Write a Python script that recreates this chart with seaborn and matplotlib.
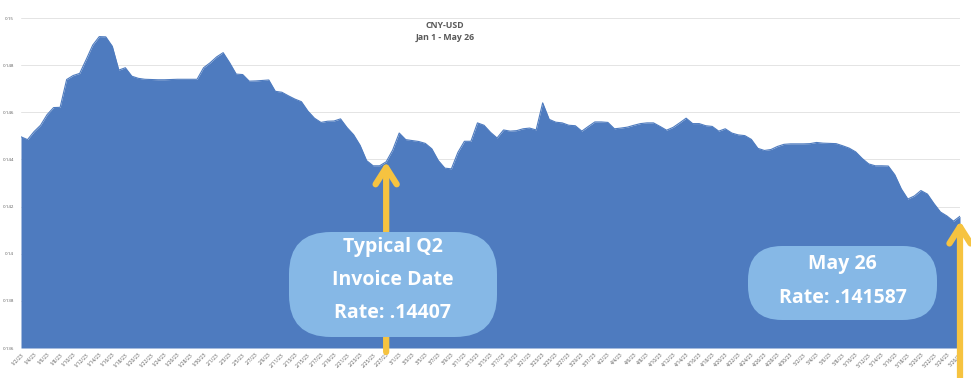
import matplotlib
matplotlib.use("Agg")
import matplotlib.pyplot as plt
from matplotlib.patches import FancyBboxPatch
import pandas as pd
import seaborn as sns

# daily CNY-USD rate
start, end = "2023-01-02", "2023-05-26"
jan = [0.14496, 0.14484, 0.14518, 0.14545, 0.14590, 0.14620, 0.14621, 0.14739, 0.14756, 0.14765,
       0.14824, 0.14885, 0.14921, 0.14920, 0.14880, 0.14779, 0.14789, 0.14753, 0.14744, 0.14740,
       0.14739, 0.14738, 0.14738, 0.14739, 0.14740, 0.14740, 0.14740, 0.14740, 0.14789, 0.14810]
feb = [0.14835, 0.14853, 0.14810, 0.14762, 0.14760, 0.14732, 0.14733, 0.14735, 0.14737, 0.14689,
       0.14685, 0.14670, 0.14656, 0.14645, 0.14605, 0.14575, 0.14557, 0.14562, 0.14563, 0.14572,
       0.14535, 0.14505, 0.14460, 0.14395, 0.14373, 0.14373, 0.14390, 0.14440]
mar = [0.14512, 0.14484, 0.14480, 0.14476, 0.14468, 0.14445, 0.14395, 0.14363, 0.14360, 0.14430,
       0.14477, 0.14477, 0.14555, 0.14545, 0.14515, 0.14491, 0.14525, 0.14520, 0.14522, 0.14530,
       0.14533, 0.14525, 0.14640, 0.14570, 0.14558, 0.14555, 0.14545, 0.14543, 0.14520, 0.14540,
       0.14559]
apr = [0.14559, 0.14557, 0.14530, 0.14533, 0.14537, 0.14545, 0.14552, 0.14555, 0.14555, 0.14540,
       0.14524, 0.14536, 0.14555, 0.14575, 0.14552, 0.14552, 0.14543, 0.14540, 0.14520, 0.14530,
       0.14512, 0.14504, 0.14501, 0.14485, 0.14447, 0.14438, 0.14442, 0.14455, 0.14464, 0.14466]
may = [0.14466, 0.14466, 0.14467, 0.14472, 0.14469, 0.14468, 0.14467, 0.14458, 0.14448, 0.14432,
       0.14404, 0.14381, 0.14373, 0.14373, 0.14372, 0.14335, 0.14275, 0.14232, 0.14245, 0.14268,
       0.14253, 0.14213, 0.14177, 0.14160, 0.14138, 0.14159]

yticks = [0.136, 0.138, 0.140, 0.142, 0.144, 0.146, 0.148, 0.150]
ytick_labels = ["0.136", "0.138", "0.14", "0.142", "0.144", "0.146", "0.148", "0.15"]

invoice_day = "2023-02-27"
invoice_text = "Typical Q2\nInvoice Date\nRate: .14407"
last_text = "May 26\nRate: .141587"

BLUE = "#4e7bbf"
LIGHT = "#86b8e6"
YELLOW = "#f6c340"
GREY = "#595959"


def main():
    sns.set_theme(style="white")
    plt.rcParams["font.family"] = ["Open Sans", "DejaVu Sans"]

    df = pd.DataFrame({"date": pd.date_range(start, end),
                       "rate": jan + feb + mar + apr + may})

    fig = plt.figure(figsize=(9.71, 3.78), dpi=100)
    ax = fig.add_axes([21 / 971, 30 / 378, 939 / 971, 330 / 378])

    ax.fill_between(df["date"], df["rate"], yticks[0], color=BLUE, lw=0, zorder=2)
    sns.lineplot(data=df, x="date", y="rate", color=BLUE, lw=0.8, ax=ax, zorder=3)

    ax.set_xlim(df["date"].iloc[0], df["date"].iloc[-1])
    ax.set_ylim(yticks[0], yticks[-1])
    ax.set_yticks(yticks, ytick_labels)
    ticks = df["date"].iloc[::2]
    ax.set_xticks(ticks, [f"{d.month}/{d.day}/{d:%y}" for d in ticks],
                  rotation=45, ha="right", rotation_mode="anchor")
    ax.tick_params(axis="both", length=0, labelcolor=GREY)
    ax.tick_params(axis="x", pad=3, labelsize=3.5)
    ax.tick_params(axis="y", pad=5, labelsize=3.2)
    ax.set_xlabel("")
    ax.set_ylabel("")
    ax.yaxis.grid(True, color="#e4e4e4", lw=0.7)
    ax.set_axisbelow(True)
    sns.despine(ax=ax, left=True, bottom=True)

    fig.text(445 / 971, 1 - 26 / 378, "CNY-USD", ha="center", va="center",
             fontsize=6.3, color=GREY, fontweight="bold")
    fig.text(445 / 971, 1 - 38 / 378, "Jan 1 - May 26", ha="center", va="center",
             fontsize=6.3, color=GREY, fontweight="bold")

    # yellow arrows
    inv = df.set_index("date").loc[invoice_day, "rate"]
    arrow = dict(arrowstyle="->,head_length=0.6,head_width=0.38", lw=4.5,
                 color=YELLOW, shrinkA=0, shrinkB=0, mutation_scale=20,
                 capstyle="round", joinstyle="round")
    ax.annotate("", xy=(pd.Timestamp(invoice_day), inv),
                xytext=(pd.Timestamp(invoice_day), 0.13583),
                arrowprops=arrow, annotation_clip=False, zorder=4)
    ax.annotate("", xy=(df["date"].iloc[-1], df["rate"].iloc[-1] - 0.0002),
                xytext=(df["date"].iloc[-1], 0.1345),
                arrowprops=arrow, annotation_clip=False, zorder=4)

    # callout boxes (inches from lower left)
    tr = fig.dpi_scale_trans
    fig.add_artist(FancyBboxPatch((2.89, 0.41), 2.08, 1.05, transform=tr,
                                  boxstyle="round,pad=0,rounding_size=0.42",
                                  fc=LIGHT, ec="none", zorder=5))
    fig.add_artist(FancyBboxPatch((7.48, 0.58), 1.89, 0.74, transform=tr,
                                  boxstyle="round,pad=0,rounding_size=0.34",
                                  fc=LIGHT, ec="none", zorder=5))
    for i, line in enumerate(invoice_text.split("\n")):
        fig.text(3.93, 1.31 - i * 0.33, line, transform=tr, ha="center", va="center",
                 fontsize=14, fontweight="bold", color="white", zorder=6)
    for i, line in enumerate(last_text.split("\n")):
        fig.text(8.425, 1.14 - i * 0.34, line, transform=tr, ha="center", va="center",
                 fontsize=14, fontweight="bold", color="white", zorder=6)

    fig.savefig("out.png", dpi=100)


if __name__ == "__main__":
    main()
